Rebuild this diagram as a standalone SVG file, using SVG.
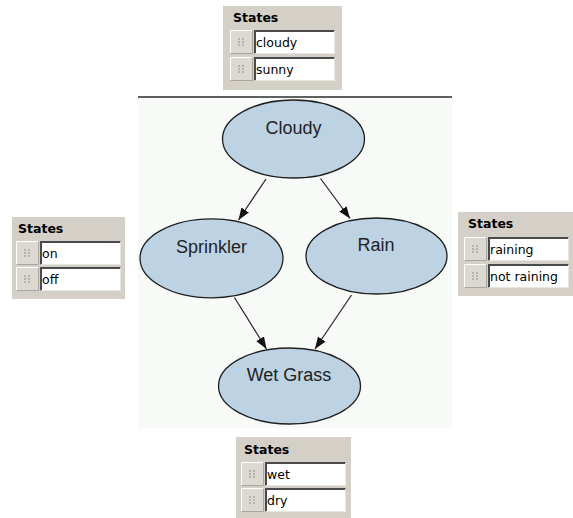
<svg xmlns="http://www.w3.org/2000/svg" xmlns:xlink="http://www.w3.org/1999/xlink" width="573" height="518" viewBox="0 0 573 518">
<style>
.panel{fill:#d4d0c8}
.hdr{font-family:"DejaVu Sans",sans-serif;font-weight:bold;font-size:12.5px;fill:#000}
.val{font-family:"DejaVu Sans",sans-serif;font-size:12.5px;fill:#000}
.node ellipse{fill:#bdd3e4;stroke:#1e1e1e;stroke-width:1.3}
.node text{font-family:"Liberation Sans",Arial,sans-serif;font-size:18px;fill:#222;text-anchor:middle}
.edge{stroke:#222;stroke-width:1.2;fill:none;marker-end:url(#ah)}
</style>
<defs>
<marker id="ah" markerUnits="userSpaceOnUse" markerWidth="13" markerHeight="10" refX="12" refY="4.5" orient="auto">
<path d="M0,0 L12,4.5 L0,9 z" fill="#111"/>
</marker>
<g id="btn">
<rect x="0.5" y="0.5" width="22" height="23" fill="#dcd9d2"/>
<path d="M0.5,23.5 V0.5 H22.5" stroke="#fff" fill="none"/>
<path d="M0.5,23.5 H22.5 V0.5" stroke="#a8a6a0" fill="none"/>
<g fill="#b4b2ac">
<rect x="8" y="8" width="2" height="2"/><rect x="12" y="8" width="2" height="2"/>
<rect x="8" y="11" width="2" height="2"/><rect x="12" y="11" width="2" height="2"/>
<rect x="8" y="14" width="2" height="2"/><rect x="12" y="14" width="2" height="2"/>
</g>
</g>
<g id="box">
<rect x="0" y="0" width="81" height="24" fill="#fff"/>
<path d="M1,24 V1 H81" stroke="#4a4a4a" stroke-width="2" fill="none"/>
<path d="M0.5,23.5 H80.5 V0.5" stroke="#e8e6e0" fill="none"/>
</g>
</defs>
<rect x="138" y="98" width="314" height="330" fill="#f8faf8"/>
<line x1="138" y1="97" x2="452" y2="97" stroke="#606060" stroke-width="2"/>
<g id="connectors">
<line class="edge" x1="266" y1="179" x2="238.5" y2="220"/>
<line class="edge" x1="320.5" y1="178.5" x2="350" y2="218.5"/>
<line class="edge" x1="234.5" y1="297.5" x2="266.5" y2="349"/>
<line class="edge" x1="351.5" y1="295" x2="315" y2="349"/>
</g>
<g id="node-cloudy" class="node">
<ellipse cx="293.5" cy="139" rx="71" ry="39"/>
<text x="293.5" y="134">Cloudy</text>
</g>
<g id="node-sprinkler" class="node">
<ellipse cx="211.5" cy="258.3" rx="71.5" ry="39.5"/>
<text x="211.5" y="253">Sprinkler</text>
</g>
<g id="node-rain" class="node">
<ellipse cx="376.5" cy="256" rx="70.5" ry="38"/>
<text x="376" y="251">Rain</text>
</g>
<g id="node-wetgrass" class="node">
<ellipse cx="289.5" cy="386" rx="71" ry="38"/>
<text x="289" y="381">Wet Grass</text>
</g>
<g id="states-cloudy">
<rect class="panel" x="223" y="6" width="119" height="84"/>
<text class="hdr" x="233" y="22">States</text>
<use xlink:href="#btn" x="230" y="30"/><use xlink:href="#box" x="254" y="30"/>
<text class="val" x="256" y="47">cloudy</text>
<use xlink:href="#btn" x="230" y="57"/><use xlink:href="#box" x="254" y="57"/>
<text class="val" x="256" y="74">sunny</text>
</g>
<g id="states-sprinkler">
<rect class="panel" x="12" y="217" width="113" height="82"/>
<text class="hdr" x="18" y="233">States</text>
<use xlink:href="#btn" x="16" y="241"/><use xlink:href="#box" x="40" y="241"/>
<text class="val" x="42" y="258">on</text>
<use xlink:href="#btn" x="16" y="267"/><use xlink:href="#box" x="40" y="267"/>
<text class="val" x="42" y="284">off</text>
</g>
<g id="states-rain">
<rect class="panel" x="458" y="212" width="115" height="84"/>
<text class="hdr" x="468" y="228">States</text>
<use xlink:href="#btn" x="464" y="237"/><use xlink:href="#box" x="488" y="237"/>
<text class="val" x="490" y="254">raining</text>
<use xlink:href="#btn" x="464" y="264"/><use xlink:href="#box" x="488" y="264"/>
<text class="val" x="490" y="281">not raining</text>
</g>
<g id="states-wetgrass">
<rect class="panel" x="236" y="437" width="115" height="81"/>
<text class="hdr" x="244" y="454">States</text>
<use xlink:href="#btn" x="241" y="462"/><use xlink:href="#box" x="265" y="462"/>
<text class="val" x="267" y="479">wet</text>
<use xlink:href="#btn" x="241" y="488"/><use xlink:href="#box" x="265" y="488"/>
<text class="val" x="267" y="505">dry</text>
</g>
</svg>
